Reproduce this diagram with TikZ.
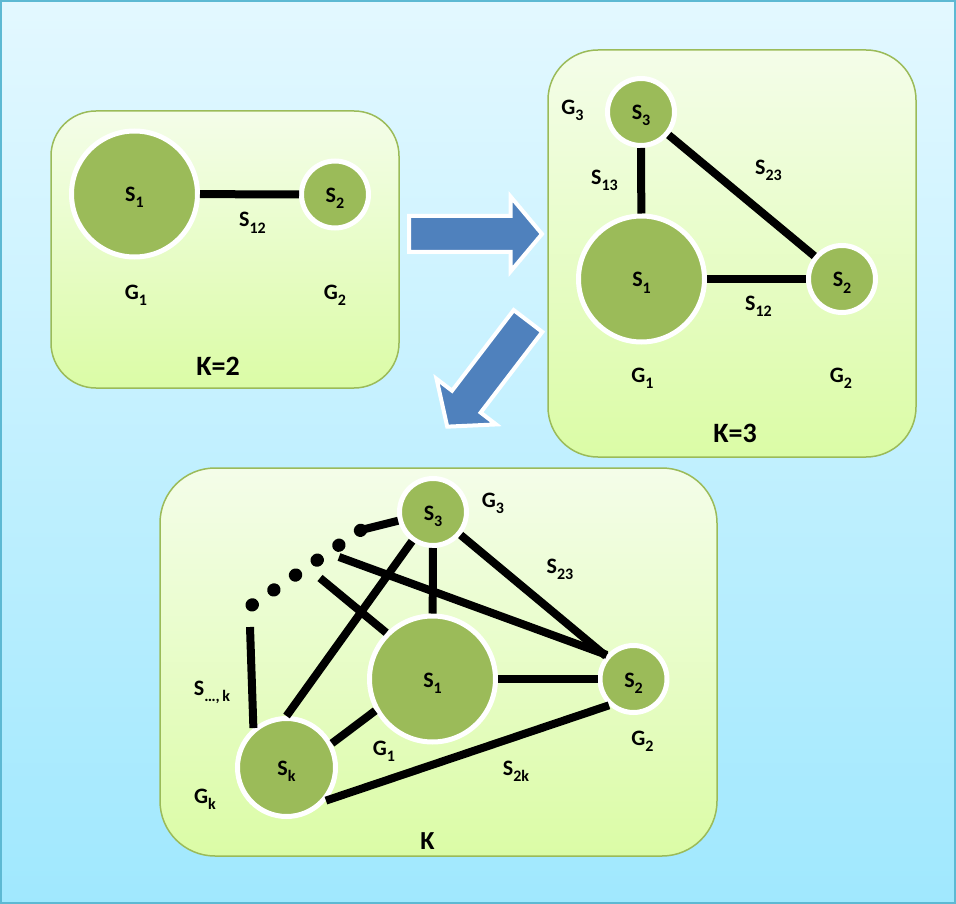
\documentclass[tikz,border=0pt]{standalone}
\usepackage{fontspec}
\setmainfont{Carlito}
\usetikzlibrary{shapes.arrows}

\definecolor{bgtop}{HTML}{E3F8FF}
\definecolor{bgbot}{HTML}{A0E8FE}
\definecolor{frameblue}{HTML}{5DB9D3}
\definecolor{boxtop}{HTML}{F4FDE9}
\definecolor{boxbot}{HTML}{DBFCA6}
\definecolor{olive}{HTML}{9BBB59}
\definecolor{arrowblue}{HTML}{4F81BD}

% letter with a lowered index
\newcommand{\lblsub}[2]{#1\raisebox{-6pt}{\fontsize{16}{16}\selectfont #2}}

\begin{document}
\begin{tikzpicture}[
        x=1pt, y=-1pt,
        panel/.style={
            rectangle,
            draw=olive,
            line width=1.5pt,
            top color=boxtop,
            bottom color=boxbot,
            inner sep=0pt
        },
        site/.style={
            circle,
            draw=white,
            line width=5pt,
            fill=olive,
            inner sep=0pt,
            outer sep=2.5pt,
            text height=22pt,
            text depth=6pt,
            font=\fontsize{22}{22}\selectfont\bfseries
        },
        lbl/.style={anchor=base, inner sep=0pt, font=\fontsize{22}{22}\selectfont\bfseries},
        title/.style={anchor=base, inner sep=0pt, font=\fontsize{28}{28}\selectfont\bfseries},
        link/.style={line width=8pt},
        blockarrow/.style={
            single arrow,
            single arrow head extend=19.5pt,
            single arrow tip angle=100,
            inner xsep=0pt,
            inner ysep=16pt,
            outer sep=0pt,
            minimum height=133,
            anchor=tail,
            fill=arrowblue,
            draw=white,
            line width=4pt
        }
    ]

        \useasboundingbox (0,0) rectangle (956,904);
        \path[top color=bgtop, bottom color=bgbot] (0,0) rectangle (956,904);
        \draw[frameblue, line width=2pt] (1,1) rectangle (955,903);

        % panels
        \node[panel, minimum width=348, minimum height=277, rounded corners=45pt] (pk2) at (225,249.5) {};
        \node[panel, minimum width=368, minimum height=407, rounded corners=50pt] (pk3) at (732,253.5) {};
        \node[panel, minimum width=557, minimum height=388, rounded corners=55pt] (pk) at (438.5,662) {};

        % K=2
        \node[site, minimum size=126] (a1) at (134.5,194) {\lblsub{S}{1}};
        \node[site, minimum size=67] (a2) at (335,194.5) {\lblsub{S}{2}};
        \draw[link] (a1) -- (a2);
        \node[lbl] (a12) at (252.5,227) {\lblsub{S}{12}};
        \node[lbl] (ag1) at (136,299) {\lblsub{G}{1}};
        \node[lbl] (ag2) at (335,299) {\lblsub{G}{2}};
        \node[title] (ak) at (218,375) {K=2};

        % K=3
        \node[site, minimum size=126] (b1) at (641.5,279) {\lblsub{S}{1}};
        \node[site, minimum size=67] (b2) at (842,279) {\lblsub{S}{2}};
        \node[site, minimum size=67] (b3) at (641,112) {\lblsub{S}{3}};
        \draw[link] (b3) -- (b1);
        \draw[link] (b3) -- (b2);
        \draw[link] (b1) -- (b2);
        \node[lbl] (bg3) at (572.5,115) {\lblsub{G}{3}};
        \node[lbl] (b13) at (604.5,185) {\lblsub{S}{13}};
        \node[lbl] (b23) at (768.5,175) {\lblsub{S}{23}};
        \node[lbl] (b12) at (758.5,310) {\lblsub{S}{12}};
        \node[lbl] (bg1) at (642.5,382) {\lblsub{G}{1}};
        \node[lbl] (bg2) at (841,382) {\lblsub{G}{2}};
        \node[title] (bk) at (735,442) {K=3};

        % general K
        \node[site, minimum size=126] (c1) at (432.5,679) {\lblsub{S}{1}};
        \node[site, minimum size=67] (c2) at (633.5,679) {\lblsub{S}{2}};
        \node[site, minimum size=67] (c3) at (433,512) {\lblsub{S}{3}};
        \node[site, minimum size=98] (ck) at (286.5,767.5) {\lblsub{S}{k}};
        \coordinate (dA) at (252,605);
        \coordinate (dB) at (361,530);
        \coordinate (dE) at (339,557);
        \coordinate (dF) at (320,578);
        \coordinate (dG) at (250,627);
        \draw[link] (c3) -- (c1);
        \draw[link] (c3) -- (c2);
        \draw[link] (c1) -- (c2);
        \draw[link] (c3) -- (ck.north);
        \draw[link] (ck.28) -- (c1.209);
        \draw[link] (ck.-40) -- (c2.227);
        \draw[link] (dE) -- (c2.138);
        \draw[link] (dF) -- (c1.135);
        \draw[link] (dG) -- (ck.130);
        \draw[line width=13pt, line cap=round, dash pattern=on 0.5pt off 25.8pt] (dA) -- (dB);
        \draw[link] (dB) -- (c3);
        \node[lbl] (cg3) at (493,507) {\lblsub{G}{3}};
        \node[lbl] (c23) at (560,573) {\lblsub{S}{23}};
        \node[lbl] (cdk) at (212,695) {\lblsub{S}{…,\,k}};
        \node[lbl] (cgk) at (205,803) {\lblsub{G}{k}};
        \node[lbl] (cg1) at (384,755) {\lblsub{G}{1}};
        \node[lbl] (c2k) at (516,775) {\lblsub{S}{2k}};
        \node[lbl] (cg2) at (642.5,745) {\lblsub{G}{2}};
        \node[title, font=\fontsize{26}{26}\selectfont\bfseries] (ck0) at (427.5,849) {K};

        % step arrows
        \node[blockarrow] (arrR) at (409,234) {};
        \node[blockarrow, rotate=232.6] (arrD) at (528,321) {};

    \end{tikzpicture}
\end{document}
